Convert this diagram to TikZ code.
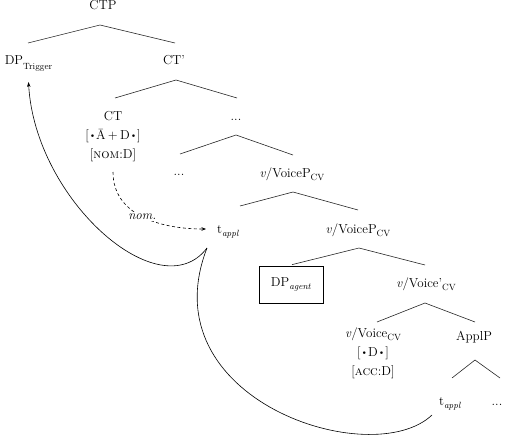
\documentclass[tikz,border=0pt]{standalone}
\usepackage{graphicx}
\usetikzlibrary{calc,arrows.meta}
\newcommand{\lowsub}[2][3pt]{\raisebox{-#1}{\fontsize{9}{9}\selectfont #2}}
\newcommand{\smbul}{\raisebox{0.6pt}{\scalebox{0.75}{\textbullet}}}
\begin{document}
\begin{tikzpicture}[x=1pt,y=-1pt,
  lbl/.style={anchor=base,inner sep=0pt,font=\fontsize{13}{19}\selectfont},
  branch/.style={line width=0.6pt,black!85},
  mvarrow/.style={line width=0.6pt,-{Stealth[length=5pt,width=3.5pt]}},
  agreebox/.style={draw,line width=0.7pt,minimum width=64pt,minimum height=37pt,inner sep=0pt,font=\fontsize{13}{19}\selectfont}]
\useasboundingbox (0,0) rectangle (506,436);
% nodes
\node[lbl] (ctp) at (103,10) {CTP};
\node[lbl] (dptrig) at (28.5,65) {DP\lowsub[5pt]{Trigger}};
\node[lbl] (ctbar) at (174,65) {CT'};
\node[lbl,align=center] (ct) at (113,158) {CT\\{}[\smbul\=A\,+\,D\smbul]\\{}[\textsc{nom}:D]};
\node[lbl] (dots1) at (236,120) {...};
\node[lbl] (dots2) at (179,175) {...};
\node[lbl] (vp1) at (292,177) {\textit{v}/VoiceP\lowsub{CV}};
\node[lbl] (tappl1) at (228,233) {t\lowsub{\textit{appl}}};
\node[lbl] (vp2) at (358,233) {\textit{v}/VoiceP\lowsub{CV}};
\node[agreebox] (dpag) at (291,284.5) {DP\lowsub{\textit{agent}}};
\node[lbl] (vbar) at (426,287) {\textit{v}/Voice'\lowsub{CV}};
\node[lbl,align=center] (voice) at (373,375) {\textit{v}/Voice\lowsub{CV}\\{}[\smbul D\smbul]\\{}[\textsc{acc}:D]};
\node[lbl] (applp) at (474,340) {ApplP};
\node[lbl] (tappl2) at (450,405) {t\lowsub{\textit{appl}}};
\node[lbl] (dots3) at (497,405) {...};
% branches
\draw[branch] ($(dptrig.base)+(-0.5,-22)$) -- ($(ctp.base)+(-3,15)$) -- ($(ctbar.base)+(1,-22)$);
\draw[branch] ($(ct.base)+(2,-60)$) -- ($(ctbar.base)+(2,15)$) -- ($(dots1.base)+(1,-22)$);
\draw[branch] ($(dots2.base)+(1,-21)$) -- ($(dots1.base)+(0,15)$) -- ($(vp1.base)+(1,-22)$);
\draw[branch] ($(tappl1.base)+(12,-27)$) -- ($(vp1.base)+(1,15)$) -- ($(vp2.base)+(0,-23)$);
\draw[branch] ($(dpag.north)+(1,-1)$) -- ($(vp2.base)+(1,15)$) -- ($(vbar.base)+(-1,-22)$);
\draw[branch] ($(voice.base)+(4,-53)$) -- ($(vbar.base)+(-1,16)$) -- ($(applp.base)+(1,-18)$);
\draw[branch] ($(tappl2.base)+(2,-27)$) -- ($(applp.base)+(1,20)$) -- ($(dots3.base)+(3,-27)$);
% movement
\coordinate (mv) at ($(tappl1.base)+(-21,15)$);
\coordinate (trigend) at ($(dptrig.base)+(0,17)$);
\coordinate (lowstart) at ($(tappl2.base)+(-18,10)$);
\draw[mvarrow] (mv) .. controls (160,310) and (35,200) .. (trigend);
\draw[line width=0.6pt] (lowstart) .. controls (372,472) and (148,400) .. (mv);
% agreement
\draw[line width=0.6pt,dash pattern=on 3pt off 2.5pt,-{Stealth[length=4.5pt,width=3.5pt]}]
  ($(ct.base)+(0,14)$) .. controls (113,215) and (160,229) .. ($(tappl1.base)+(-22,-4)$)
  node[pos=0.5,fill=white,inner sep=1.5pt,font=\fontsize{13}{19}\selectfont\itshape] (nom) {nom.};
\end{tikzpicture}
\end{document}
